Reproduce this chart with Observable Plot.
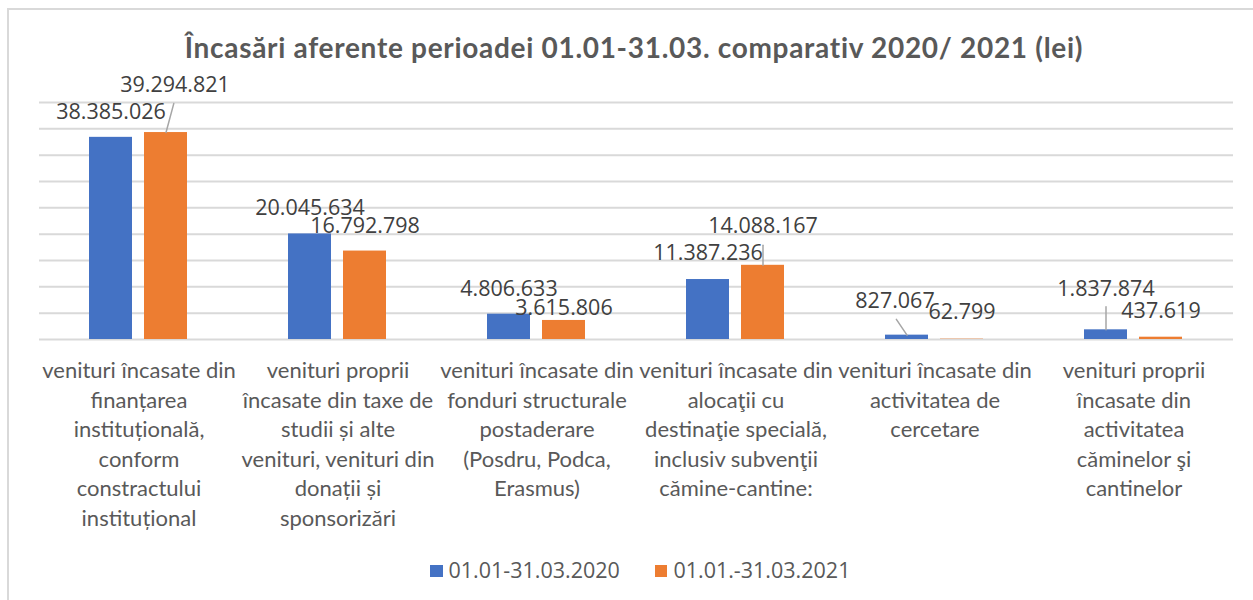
<!DOCTYPE html>
<html>
<head>
<meta charset="utf-8">
<script src="https://cdn.jsdelivr.net/npm/d3@7"></script>
<script src="https://cdn.jsdelivr.net/npm/@observablehq/plot@0.6"></script>
<style>
html, body { margin: 0; padding: 0; background: #fff; }
body { width: 1253px; height: 600px; overflow: hidden; position: relative; font-family: "Open Sans", sans-serif; }
#frame { position: absolute; left: 7px; top: 8px; width: 1400px; height: 800px; border-left: 2px solid #d9d9d9; border-top: 2px solid #d9d9d9; box-sizing: border-box; }
#title { position: absolute; left: 0; width: 1268px; top: 33px; text-align: center; font-family: Lato, sans-serif; font-weight: bold; font-size: 28px; letter-spacing: 0.7px; line-height: 28px; color: #595959; white-space: nowrap; }
#chart { position: absolute; left: 0; top: 70px; }
#legend { position: absolute; left: 430px; top: 559px; display: flex; align-items: center; font-family: "Open Sans", sans-serif; font-size: 21.5px; line-height: 21px; color: #595959; white-space: nowrap; }
#legend .item { display: flex; align-items: center; }
#legend .sw { width: 12.5px; height: 12.5px; margin-right: 6px; margin-top: 3px; }
#legend .item + .item { margin-left: 35px; }
</style>
</head>
<body>
<div id="frame"></div>
<div id="title">Încasări aferente perioadei 01.01-31.03. comparativ 2020/ 2021 (lei)</div>
<div id="chart"></div>
<div id="legend"></div>
<script>
// ---- data ----
const categories = [
  "venituri încasate din finanțarea instituțională, conform constractului instituțional",
  "venituri proprii încasate din taxe de studii și alte venituri, venituri din donații și sponsorizări",
  "venituri încasate din fonduri structurale postaderare (Posdru, Podca, Erasmus)",
  "venituri încasate din alocaţii cu destinaţie specială, inclusiv subvenţii cămine-cantine:",
  "venituri încasate din activitatea de cercetare",
  "venituri proprii încasate din activitatea căminelor şi cantinelor"
];
const tickLabels = [
  "venituri încasate din\nfinanțarea\ninstituțională,\nconform\nconstractului\ninstituțional",
  "venituri proprii\nîncasate din taxe de\nstudii și alte\nvenituri, venituri din\ndonații și\nsponsorizări",
  "venituri încasate din\nfonduri structurale\npostaderare\n(Posdru, Podca,\nErasmus)",
  "venituri încasate din\nalocaţii cu\ndestinaţie specială,\ninclusiv subvenţii\ncămine-cantine:",
  "venituri încasate din\nactivitatea de\ncercetare",
  "venituri proprii\nîncasate din\nactivitatea\ncăminelor şi\ncantinelor"
];
const series = ["01.01-31.03.2020", "01.01.-31.03.2021"];
const values2020 = [38385026, 20045634, 4806633, 11387236, 827067, 1837874];
const values2021 = [39294821, 16792798, 3615806, 14088167, 62799, 437619];

// ---- layout / style (not data) ----
const colors = ["#4472C4", "#ED7D31"];
// label offsets [dx, dy] in px, per category, per series
const labelOffsets = [
  [[0, -25], [9, -47]],
  [[0, -26], [0, -25]],
  [[0, -25], [0, -12]],
  [[0, -26], [0, -39]],
  [[-12, -34], [0, -27]],
  [[0, -41], [0, -26]]
];
// leader lines: [categoryIndex, seriesIndex, lengthPx, rotateDeg]
const leaders = [
  [0, 1, 30, 15],
  [3, 1, 20, 0],
  [4, 0, 19, -34],
  [5, 0, 23, 0]
];

const data = categories.flatMap((c, i) => series.map((s, j) => ({
  category: c, series: s, value: (j === 0 ? values2020 : values2021)[i], ci: i, sj: j
})));

const fmt = d3.formatLocale({decimal: ",", thousands: ".", grouping: [3], currency: ["", ""]}).format(",d");

const leaderShape = {draw(ctx, l) { ctx.moveTo(0, 0); ctx.lineTo(0, -l); }};

const chart = Plot.plot({
  width: 1253,
  height: 470,
  marginLeft: 38,
  marginRight: 19,
  marginTop: 32,
  marginBottom: 201,
  style: {fontFamily: "Open Sans", fontSize: "21.5px", background: "transparent", overflow: "visible"},
  fx: {domain: categories, padding: 0, label: null},
  x: {domain: series, paddingInner: 0.214, paddingOuter: 0.887, axis: null, label: null},
  y: {domain: [0, 45e6], axis: null, label: null},
  color: {domain: series, range: colors},
  marks: [
    Plot.gridY({ticks: 9, stroke: "#d9d9d9", strokeOpacity: 1, strokeWidth: 2}),
    Plot.barY(data, {fx: "category", x: "series", y: "value", fill: "series"}),
    ...leaders.map(([ci, sj, len, rot]) =>
      Plot.vector(data.filter(d => d.ci === ci && d.sj === sj), {
        fx: "category", x: "series", y: "value",
        length: len, rotate: rot, anchor: "start", shape: leaderShape,
        stroke: "#a6a6a6", strokeWidth: 1.5
      })),
    ...data.map(d => Plot.text([d], {
      fx: "category", x: "series", y: "value",
      text: d => fmt(d.value),
      dx: labelOffsets[d.ci][d.sj][0], dy: labelOffsets[d.ci][d.sj][1],
      fill: "#404040", fontSize: 21.5, fontFamily: "Open Sans"
    })),
    Plot.axisFx({
      anchor: "bottom", tickSize: 0, tickPadding: 18, label: null,
      tickFormat: d => tickLabels[categories.indexOf(d)],
      fontFamily: "Lato", fontSize: 22, lineHeight: 1.338, fill: "#595959"
    })
  ]
});
document.getElementById("chart").appendChild(chart);

const legend = document.getElementById("legend");
series.forEach((s, i) => {
  const item = document.createElement("div");
  item.className = "item";
  const sw = document.createElement("span");
  sw.className = "sw";
  sw.style.background = colors[i];
  const tx = document.createElement("span");
  tx.textContent = s;
  item.appendChild(sw);
  item.appendChild(tx);
  legend.appendChild(item);
});
</script>
</body>
</html>
